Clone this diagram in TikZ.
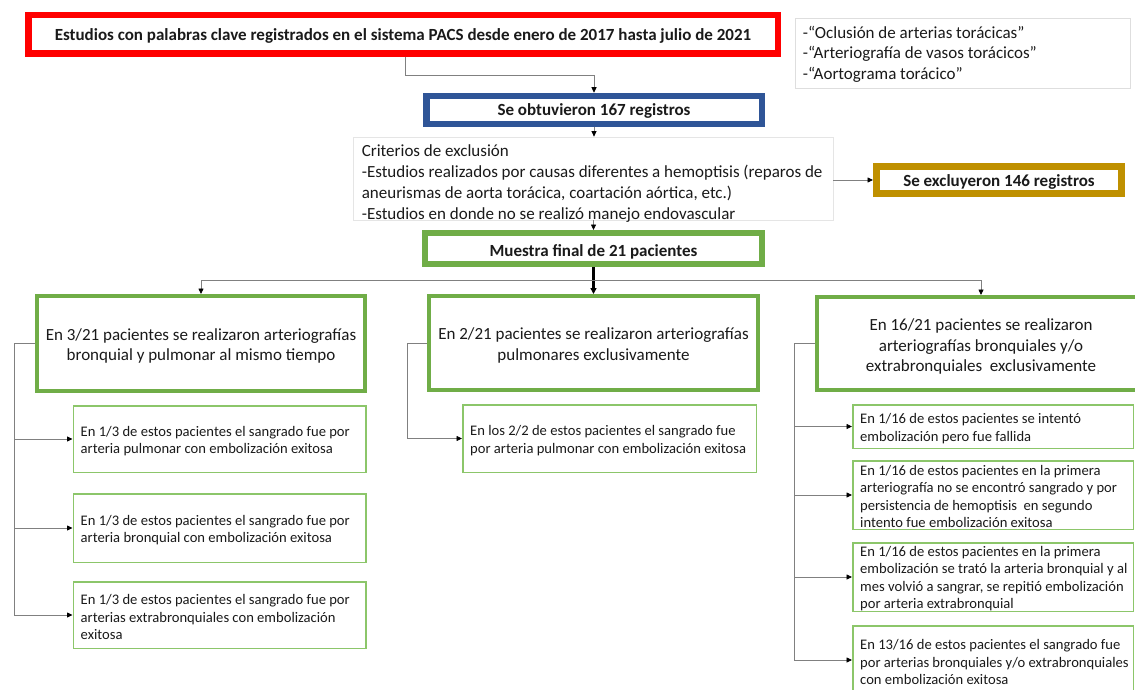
\documentclass[tikz,border=0pt]{standalone}
\usepackage{fontspec}
\setmainfont{Carlito}
\usetikzlibrary{arrows.meta}
\definecolor{cred}{HTML}{FF0000}
\definecolor{cblue}{HTML}{2F5597}
\definecolor{cgold}{HTML}{BF9000}
\definecolor{cgreen}{HTML}{70AD47}
\definecolor{clgreen}{HTML}{8CC66A}
\definecolor{cline}{HTML}{808080}
\definecolor{ctext}{HTML}{1A1A1A}
\newcommand{\dn}[2]{\raisebox{-#1}[\height][\depth]{#2}}
\tikzset{
  box/.style={draw, rectangle, inner sep=0pt, align=center, text=ctext},
  headbox/.style={box, font=\bfseries\fontsize{17}{20}\selectfont},
  bigbox/.style={box, draw=cgreen, line width=4pt},
  bigtxt/.style={inner sep=0pt, align=center, text=ctext, font=\fontsize{17}{20.5}\selectfont},
  childbox/.style={box, draw=clgreen, line width=1.5pt},
  childtxt/.style={anchor=west, inner sep=0pt, align=left, text=ctext, font=\fontsize{14.6}{17.5}\selectfont},
  conn/.style={draw=cline, line width=0.8pt},
  arr/.style={conn, -{Triangle[length=5.5pt,width=5pt,color=black]}},
  thickarr/.style={draw=black, line width=2.2pt, -{Triangle[length=6pt,width=6pt]}},
}
\begin{document}
\begin{tikzpicture}[x=1pt,y=-1pt]
\useasboundingbox (0,0) rectangle (1135,690);
\clip (0,0) rectangle (1135,690);
\fill[white] (0,0) rectangle (1135,690);

% top boxes
\node[headbox, draw=cred, line width=6.5pt, minimum width=749.5pt, minimum height=38.5pt] (red) at (403,34.5)
  {\dn{1pt}{Estudios con palabras clave registrados en el sistema PACS desde enero de 2017 hasta julio de 2021}};
\node[box, draw=black!13, line width=0.75pt, minimum width=335pt, minimum height=70pt] (kw) at (962.5,53) {};
\node[childtxt, font=\fontsize{17}{20.5}\selectfont] (kwt) at ([xshift=8pt,yshift=-1pt]kw.west)
  {-“Oclusión de arterias torácicas”\\-“Arteriografía de vasos torácicos”\\-“Aortograma torácico”};
\node[headbox, draw=cblue, line width=6.5pt, minimum width=335.5pt, minimum height=28pt] (blue) at (594,110)
  {\dn{1pt}{Se obtuvieron 167 registros}};
\node[box, draw=black!10, line width=0.75pt, minimum width=480pt, minimum height=83pt] (excl) at (593,178.5) {};
\node[childtxt, font=\fontsize{17}{21.2}\selectfont] (exclt) at ([xshift=9pt,yshift=-5pt]excl.west)
  {Criterios de exclusión\\-Estudios realizados por causas diferentes a hemoptisis (reparos de\\aneurismas de aorta torácica, coartación aórtica, etc.)\\-Estudios en donde no se realizó manejo endovascular};
\node[headbox, draw=cgold, line width=7pt, minimum width=245pt, minimum height=27pt] (gold) at (999,180)
  {\dn{2pt}{Se excluyeron 146 registros}};
\node[headbox, draw=cgreen, line width=6pt, minimum width=337pt, minimum height=31pt] (green) at (593.5,248.5)
  {\dn{3pt}{Muestra final de 21 pacientes}};

% big boxes
\node[bigbox, minimum width=328pt, minimum height=95pt] (L) at (201,343.5) {};
\node[bigbox, minimum width=329pt, minimum height=94pt] (M) at (593.5,343) {};
\node[bigbox, minimum width=328pt, minimum height=93pt] (R) at (981,343.5) {};
\node[bigtxt] (Lt) at ([yshift=-2.5pt]L.center)
  {En 3/21 pacientes se realizaron arteriografías\\bronquial y pulmonar al mismo tiempo};
\node[bigtxt] (Mt) at ([yshift=-2.5pt]M.center)
  {En 2/21 pacientes se realizaron arteriografías\\pulmonares exclusivamente};
\node[bigtxt] (Rt) at ([yshift=-3pt]R.center)
  {En 16/21 pacientes se realizaron\\arteriografías bronquiales y/o\\extrabronquiales\ \ exclusivamente};

% left children
\node[childbox, minimum width=292.5pt, minimum height=66.5pt] (c1) at (219.5,439) {};
\node[childbox, minimum width=292.5pt, minimum height=68.5pt] (c2) at (219.5,528) {};
\node[childbox, minimum width=292.5pt, minimum height=66.5pt] (c3) at (219.5,615) {};
\node[childtxt] (c1t) at ([xshift=8pt,yshift=-2pt]c1.west) {En 1/3 de estos pacientes el sangrado fue por\\arteria pulmonar con embolización exitosa};
\node[childtxt] (c2t) at ([xshift=8pt,yshift=-2pt]c2.west) {En 1/3 de estos pacientes el sangrado fue por\\arteria bronquial con embolización exitosa};
\node[childtxt] (c3t) at ([xshift=8pt,yshift=-2pt]c3.west) {En 1/3 de estos pacientes el sangrado fue por\\arterias extrabronquiales con embolización\\exitosa};

% middle child
\node[childbox, minimum width=293.5pt, minimum height=67.5pt] (m1) at (609.5,438.5) {};
\node[childtxt] (m1t) at ([xshift=8pt,yshift=-2pt]m1.west) {En los 2/2 de estos pacientes el sangrado fue\\por arteria pulmonar con embolización exitosa};

% right children
\node[childbox, minimum width=280.5pt, minimum height=43.5pt] (r1) at (993,426.5) {};
\node[childbox, minimum width=280.5pt, minimum height=68.5pt] (r2) at (993,495) {};
\node[childbox, minimum width=280.5pt, minimum height=68.5pt] (r3) at (993,577) {};
\node[childbox, minimum width=280.5pt, minimum height=68.5pt] (r4) at (993,660) {};
\node[childtxt] (r1t) at ([xshift=8pt,yshift=-2pt]r1.west) {En 1/16 de estos pacientes se intentó\\embolización pero fue fallida};
\node[childtxt] (r2t) at ([xshift=8pt,yshift=-1.5pt]r2.west) {En 1/16 de estos pacientes en la primera\\arteriografía no se encontró sangrado y por\\persistencia de hemoptisis\ \ en segundo\\intento fue embolización exitosa};
\node[childtxt] (r3t) at ([xshift=8pt,yshift=-1.5pt]r3.west) {En 1/16 de estos pacientes en la primera\\embolización se trató la arteria bronquial y al\\mes volvió a sangrar, se repitió embolización\\por arteria extrabronquial};
\node[childtxt] (r4t) at ([xshift=8pt,yshift=-2pt]r4.west) {En 13/16 de estos pacientes el sangrado fue\\por arterias bronquiales y/o extrabronquiales\\con embolización exitosa};

% connectors top
\coordinate (k1) at (405,75);
\draw[conn] (red.south -| k1) -- (k1);
\draw[arr] (k1) -| (blue.north);
\draw[arr] (blue.south) -- (blue.south |- excl.north);
\draw[arr] (excl.east |- gold.west) -- (gold.west);
\draw[arr] (excl.south -| green.north) -- (green.north);
\draw[thickarr] (green.south) -- (M.north);
\coordinate (yh) at (0,280);
\coordinate (hl) at (L.north |- yh);
\coordinate (hr) at (R.north |- yh);
\draw[conn] (hl) -- (hr);
\draw[arr] (hl) -- (L.north);
\draw[arr] (hr) -- (R.north);

% left tree
\coordinate (lx) at (14,0);
\draw[conn] (L.west) -- (L.west -| lx) -- (lx |- c3.west);
\draw[arr] (lx |- c1.west) -- (c1.west);
\draw[arr] (lx |- c2.west) -- (c2.west);
\draw[arr] (lx |- c3.west) -- (c3.west);

% middle tree
\coordinate (mx) at (407,0);
\draw[conn] (M.west) -- (M.west -| mx) -- (mx |- m1.west);
\draw[arr] (mx |- m1.west) -- (m1.west);

% right tree
\coordinate (rx) at (794,0);
\draw[conn] (R.west) -- (R.west -| rx) -- (rx |- r4.west);
\draw[arr] (rx |- r1.west) -- (r1.west);
\draw[arr] (rx |- r2.west) -- (r2.west);
\draw[arr] (rx |- r3.west) -- (r3.west);
\draw[arr] (rx |- r4.west) -- (r4.west);
\end{tikzpicture}
\end{document}
